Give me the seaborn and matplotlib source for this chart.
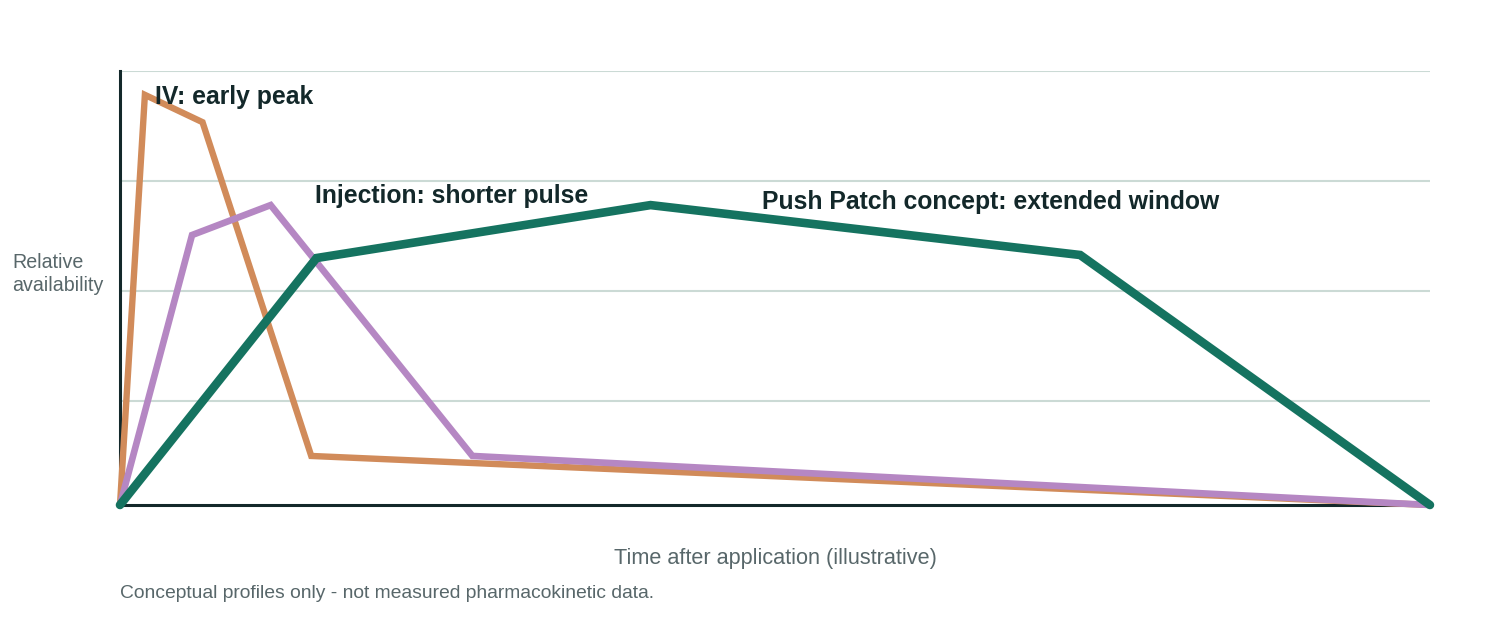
import pandas as pd
import matplotlib
matplotlib.use("Agg")
import matplotlib.pyplot as plt
import seaborn as sns

sns.set_theme(style="white")
plt.rcParams['font.family'] = ['Liberation Sans', 'DejaVu Sans']

# Conceptual profiles (time and availability on a 0-100 illustrative scale)
iv_time = [0, 1.9, 6.3, 14.6, 100]
iv_level = [0, 94.5, 88.2, 11.3, 0]

inj_time = [0, 5.5, 11.5, 26.9, 100]
inj_level = [0, 62.2, 69.1, 11.3, 0]

patch_time = [0, 15.0, 40.5, 73.3, 100]
patch_level = [0, 56.9, 69.1, 57.6, 0]

grid_levels = [24, 49.3, 74.7, 100]

series = [
    ("IV", iv_time, iv_level, "#d18b5a", 4.6),
    ("Injection", inj_time, inj_level, "#b587c3", 4.8),
    ("Push Patch", patch_time, patch_level, "#157360", 6.2),
]

dark = "#13282a"
grey = "#58676a"

fig = plt.figure(figsize=(15, 6.2), dpi=100)
ax = fig.add_axes([0.08, 0.1855, 0.8733, 0.70])

for y in grid_levels:
    ax.axhline(y, color="#cbdad5", lw=1.5, zorder=0)

for name, t, v, col, lw in series:
    df = pd.DataFrame({"time": t, "level": v})
    sns.lineplot(data=df, x="time", y="level", ax=ax, color=col, lw=lw,
                 clip_on=False, zorder=3, solid_joinstyle="miter")

ax.set_xlim(0, 100)
ax.set_ylim(0, 100)
ax.set_xticks([])
ax.set_yticks([])
for s in ["top", "right"]:
    ax.spines[s].set_visible(False)
for s in ["left", "bottom"]:
    ax.spines[s].set_color(dark)
    ax.spines[s].set_linewidth(2.2)
    ax.spines[s].set_zorder(2)

ax.set_xlabel("Time after application (illustrative)", fontsize=15.6,
              color=grey, labelpad=31)
ax.set_ylabel("")

ax.text(2.7, 94.0, "IV: early peak", fontsize=17.8, fontweight="bold",
        color=dark, va="center", ha="left")
ax.text(14.9, 71.2, "Injection: shorter pulse", fontsize=17.8, fontweight="bold",
        color=dark, va="center", ha="left")
ax.text(49.0, 69.9, "Push Patch concept: extended window", fontsize=17.8,
        fontweight="bold", color=dark, va="center", ha="left")

fig.text(12 / 1500, 1 - 274 / 620, "Relative\navailability", fontsize=14.1,
         color=grey, ha="left", va="center", linespacing=1.3)
fig.text(120 / 1500, 1 - 593 / 620,
         "Conceptual profiles only - not measured pharmacokinetic data.",
         fontsize=13.9, color=grey, ha="left", va="center")

fig.savefig("out.png", dpi=100, facecolor="white")
